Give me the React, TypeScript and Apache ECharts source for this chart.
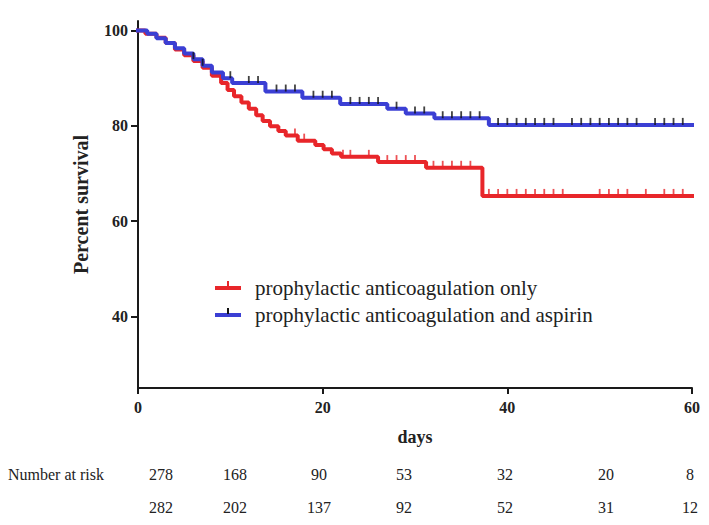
import React, { useEffect, useRef } from "react";
import * as echarts from "echarts";

// ---- data ----
const seriesNames = [
  "prophylactic anticoagulation only",
  "prophylactic anticoagulation and aspirin",
];

// Kaplan–Meier step curve: value holds from time[i] onward
const redTimes = [0, 0.8, 2, 3, 4, 5, 6, 7, 8, 9, 9.7, 10.4, 11.2, 12, 12.8, 13.5, 14.3, 15.2, 16, 17.3, 19.2, 20.1, 21, 22, 26, 31.2, 37.3, 60];
const redValues = [100, 99.3, 98.5, 97.4, 96.0, 94.8, 93.6, 92.2, 90.5, 89.0, 87.5, 86.2, 84.9, 83.6, 82.2, 81.0, 79.9, 78.9, 78.0, 76.9, 76.0, 75.1, 74.2, 73.5, 72.4, 71.2, 65.3, 65.3];

const blueTimes = [0, 1, 2, 3, 4, 5, 6, 7, 8, 9.2, 10.2, 13.8, 17.8, 21.9, 27, 29, 32.1, 38, 60];
const blueValues = [100, 99.3, 98.4, 97.4, 96.3, 95.2, 94.0, 92.6, 91.2, 90.0, 89.0, 87.2, 85.9, 84.6, 83.6, 82.6, 81.6, 80.2, 80.2];

// censoring times
const redCensor = [17, 18, 22.2, 23, 25, 27, 28, 29, 30, 32, 33, 34, 35, 36, 38, 39, 40, 41, 42, 43, 44, 45, 46, 50, 51, 52, 53, 55, 57, 58, 59];
const blueCensor = [6, 7, 10, 12, 13, 15, 16, 17, 19, 20, 21, 23, 24, 25, 26, 28, 30, 31, 33, 34, 35, 36, 37, 39, 40, 41, 42, 43, 44, 45, 47, 48, 49, 50, 51, 52, 53, 54, 56, 57, 58, 59];

const xTicks = [0, 20, 40, 60];
const yTicks = [40, 60, 80, 100];

const riskLabel = "Number at risk";
const riskRed = ["278", "168", "90", "53", "32", "20", "8"];
const riskBlue = ["282", "202", "137", "92", "52", "31", "12"];

// ---- layout / style ----
const riskColumnX = [161, 235, 319, 404, 505, 606, 690];
const RED = "#e8262a";
const BLUE = "#3b3fd4";
const SERIF = "'Liberation Serif', 'Times New Roman', serif";

function valueAt(times: number[], values: number[], t: number): number {
  let v = values[0];
  for (let i = 0; i < times.length; i++) {
    if (times[i] <= t) v = values[i];
  }
  return v;
}

export default function App() {
  const ref = useRef<HTMLDivElement>(null);

  useEffect(() => {
    if (!ref.current) return;
    const chart = echarts.init(ref.current, undefined, { renderer: "svg" });

    const axisLineStyle = { color: "#1a1a1a", width: 2 };
    const tickLabel = {
      fontFamily: SERIF,
      fontWeight: "bold" as const,
      fontSize: 16,
      color: "#222",
    };

    const graphic: any[] = [];
    // legend
    const legendRows = [
      { y: 288, color: RED, tick: RED, name: seriesNames[0] },
      { y: 315, color: BLUE, tick: "#111", name: seriesNames[1] },
    ];
    legendRows.forEach((r) => {
      graphic.push({
        type: "rect",
        shape: { x: 215, y: r.y - 2, width: 26, height: 4 },
        style: { fill: r.color },
      });
      graphic.push({
        type: "rect",
        shape: { x: 227, y: r.y - 7, width: 2, height: 6 },
        style: { fill: r.tick },
      });
      graphic.push({
        type: "text",
        x: 255,
        y: r.y,
        style: {
          text: r.name,
          font: `21px ${SERIF}`,
          fill: "#222",
          verticalAlign: "middle",
          textAlign: "left",
        },
      });
    });
    // number at risk table
    graphic.push({
      type: "text",
      x: 8,
      y: 474,
      style: {
        text: riskLabel,
        font: `16px ${SERIF}`,
        fill: "#222",
        verticalAlign: "middle",
        textAlign: "left",
      },
    });
    riskColumnX.forEach((x, i) => {
      graphic.push({
        type: "text",
        x,
        y: 474,
        style: {
          text: riskRed[i],
          font: `16px ${SERIF}`,
          fill: "#222",
          verticalAlign: "middle",
          textAlign: "center",
        },
      });
      graphic.push({
        type: "text",
        x,
        y: 507,
        style: {
          text: riskBlue[i],
          font: `16px ${SERIF}`,
          fill: "#222",
          verticalAlign: "middle",
          textAlign: "center",
        },
      });
    });

    const option: any = {
      animation: false,
      backgroundColor: "#ffffff",
      grid: { left: 138, right: 17, top: 21, bottom: 137, containLabel: false },
      xAxis: {
        type: "value",
        min: xTicks[0],
        max: xTicks[xTicks.length - 1],
        interval: 20,
        axisLine: { show: true, lineStyle: axisLineStyle },
        axisTick: { show: true, length: 6, lineStyle: axisLineStyle },
        axisLabel: { ...tickLabel, margin: 11 },
        splitLine: { show: false },
        name: "days",
        nameLocation: "middle",
        nameGap: 40,
        nameTextStyle: { fontFamily: SERIF, fontWeight: "bold", fontSize: 18, color: "#222" },
      },
      yAxis: {
        type: "value",
        min: 25,
        max: 102,
        axisLine: { show: true, lineStyle: axisLineStyle },
        axisTick: { show: true, length: 7, lineStyle: axisLineStyle, customValues: yTicks },
        axisLabel: { ...tickLabel, margin: 10, customValues: yTicks },
        splitLine: { show: false },
        name: "Percent survival",
        nameLocation: "middle",
        nameGap: 47,
        nameRotate: 90,
        nameTextStyle: { fontFamily: SERIF, fontWeight: "bold", fontSize: 20, color: "#222" },
      },
      series: [
        {
          name: seriesNames[0],
          type: "line",
          step: "end",
          silent: true,
          symbol: "none",
          data: redTimes.map((t, i) => [t, redValues[i]]),
          lineStyle: { color: RED, width: 4, cap: "square" },
          z: 2,
        },
        {
          name: seriesNames[1],
          type: "line",
          step: "end",
          silent: true,
          symbol: "none",
          data: blueTimes.map((t, i) => [t, blueValues[i]]),
          lineStyle: { color: BLUE, width: 4, cap: "square" },
          z: 3,
        },
        {
          type: "scatter",
          silent: true,
          symbol: "rect",
          symbolSize: [1.8, 7],
          symbolOffset: [0, -3.5],
          data: redCensor.map((t) => [t, valueAt(redTimes, redValues, t)]),
          itemStyle: { color: RED },
          z: 4,
        },
        {
          type: "scatter",
          silent: true,
          symbol: "rect",
          symbolSize: [1.8, 7],
          symbolOffset: [0, -3.5],
          data: blueCensor.map((t) => [t, valueAt(blueTimes, blueValues, t)]),
          itemStyle: { color: "#111" },
          z: 5,
        },
      ],
      graphic,
    };

    chart.setOption(option);
    return () => chart.dispose();
  }, []);

  return (
    <div
      ref={ref}
      style={{ position: "absolute", left: 0, top: 0, width: 709, height: 525, background: "#fff" }}
    />
  );
}
